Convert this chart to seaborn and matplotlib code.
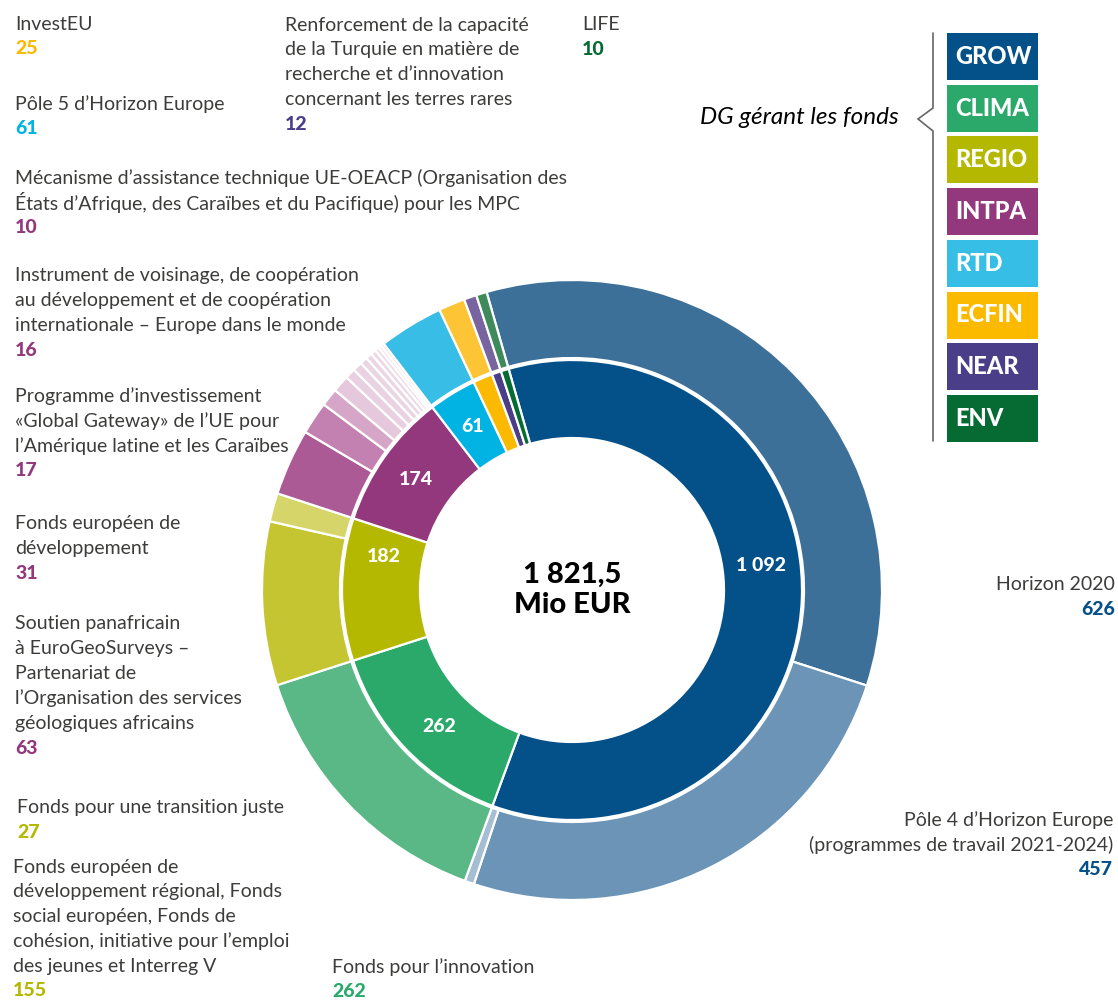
import matplotlib
matplotlib.use('Agg')
import matplotlib.pyplot as plt
import seaborn as sns
import numpy as np
from matplotlib.patches import Rectangle

sns.set_theme(style="white")
plt.rcParams['font.family'] = ['Lato', 'DejaVu Sans']

# Inner ring: DG managing the funds
dg_names = ["GROW", "CLIMA", "REGIO", "INTPA", "RTD", "ECFIN", "NEAR", "ENV"]
dg_values = [1092, 262, 182, 174, 61, 25, 12, 10]
dg_colors = ["#045089", "#2aa96b", "#b5b800", "#93387d", "#00b3e3", "#fbb900", "#4a3e88", "#066a33"]
dg_legend_colors = ["#045089", "#2aa96b", "#b5b800", "#93387d", "#37bee6", "#fbb900", "#4a3e88", "#066a33"]
dg_inner_labels = ["1 092", "262", "182", "174", "61", "", "", ""]

# Outer ring: funds / programmes
fund_values = [626, 457, 9, 262, 155, 27, 63, 31, 17, 16, 10, 9, 7, 6, 5, 4, 3, 3, 61, 25, 12, 10]
fund_colors = ["#3d7099", "#6c94b6", "#a5bed4", "#5ab886", "#c4c530", "#d5d56a",
               "#ab5a95", "#c281b0", "#d5a6c8", "#e5c8db", "#e8d0e0", "#e9d3e2",
               "#ead5e3", "#ebd7e4", "#ecd9e5", "#eddbe6", "#eeddE7", "#efdfe8",
               "#37bde6", "#fdc436", "#78659f", "#3e8a5a"]

total_label = "1 821,5\nMio EUR"

# annotation blocks: (lines, value, colour, x, y of first line centre, alignment)
annotations = [
    (["InvestEU"], "25", "#fbb900", 15, 24, "left"),
    (["Pôle 5 d’Horizon Europe"], "61", "#00b3e3", 15, 104, "left"),
    (["Renforcement de la capacité", "de la Turquie en matière de",
      "recherche et d’innovation", "concernant les terres rares"], "12", "#4a3e88", 285, 25, "left"),
    (["LIFE"], "10", "#066a33", 582, 25, "left"),
    (["Mécanisme d’assistance technique UE-OEACP (Organisation des",
      "États d’Afrique, des Caraïbes et du Pacifique) pour les MPC"], "10", "#93387d", 15, 178, "left"),
    (["Instrument de voisinage, de coopération", "au développement et de coopération",
      "internationale – Europe dans le monde"], "16", "#93387d", 15, 276, "left"),
    (["Programme d’investissement", "«Global Gateway» de l’UE pour",
      "l’Amérique latine et les Caraïbes"], "17", "#93387d", 15, 396, "left"),
    (["Fonds européen de", "développement"], "31", "#93387d", 15, 524, "left"),
    (["Soutien panafricain", "à EuroGeoSurveys –", "Partenariat de",
      "l’Organisation des services", "géologiques africains"], "63", "#93387d", 15, 624, "left"),
    (["Fonds pour une transition juste"], "27", "#b5b800", 17, 808, "left"),
    (["Fonds européen de", "développement régional, Fonds", "social européen, Fonds de",
      "cohésion, initiative pour l’emploi", "des jeunes et Interreg V"], "155", "#b5b800", 13, 867, "left"),
    (["Fonds pour l’innovation"], "262", "#2aa96b", 332, 967, "left"),
    (["Horizon 2020"], "626", "#045089", 1115, 585, "right"),
    (["Pôle 4 d’Horizon Europe", "(programmes de travail 2021-2024)"], "457", "#045089", 1113, 820, "right"),
]

W, H = 1118, 1000
cx, cy = 572, H - 590
fig = plt.figure(figsize=(W / 100, H / 100), dpi=100)
ax = fig.add_axes([0, 0, 1, 1])

start = 106
outer, _ = ax.pie(fund_values, colors=fund_colors, radius=310, center=(cx, cy),
                  startangle=start, counterclock=False,
                  wedgeprops=dict(width=78, edgecolor='white', linewidth=1.6))
inner, _ = ax.pie(dg_values, colors=dg_colors, radius=230, center=(cx, cy),
                  startangle=start, counterclock=False,
                  wedgeprops=dict(width=78, edgecolor='white', linewidth=1.6))

# values inside the inner ring
angle_shift = [9.6, 2, -10, 0, 0, 0, 0, 0]
for w, lab, sh in zip(inner, dg_inner_labels, angle_shift):
    if not lab:
        continue
    th = np.deg2rad((w.theta1 + w.theta2) / 2 + sh)
    ax.text(cx + 191 * np.cos(th), cy + 191 * np.sin(th), lab, color='white',
            fontsize=14, fontweight='black', ha='center', va='center')

ax.text(cx, cy, total_label, ha='center', va='center', fontsize=21,
        fontweight='black', color='black', linespacing=1.2)

text_col = "#3c3c3b"
step = 24.8
for lines, val, col, x, y0, ha in annotations:
    for i, ln in enumerate(lines):
        ax.text(x, H - (y0 + i * step), ln, ha=ha, va='center', fontsize=14, color=text_col)
    ax.text(x, H - (y0 + len(lines) * step), val, ha=ha, va='center', fontsize=14,
            fontweight='black', color=col)

# legend of DGs with bracket
ax.plot([933, 933, 918, 933, 933], [H - 33, H - 108, H - 119, H - 131, H - 441],
        color="#666666", lw=1.2, solid_joinstyle='miter')
ax.text(899, H - 118, "DG gérant les fonds", ha='right', va='center', fontsize=17.5,
        style='italic', color='black')
for i, (name, col) in enumerate(zip(dg_names, dg_legend_colors)):
    top = 33 + i * 51.7
    ax.add_patch(Rectangle((947, H - top - 47), 91, 47, facecolor=col, edgecolor='none'))
    ax.text(955, H - top - 23.5, name, color='white', fontsize=17, fontweight='black',
            ha='left', va='center')

ax.set_xlim(0, W)
ax.set_ylim(0, H)
ax.set_aspect('equal')
ax.axis('off')

fig.savefig('out.png', dpi=100)
